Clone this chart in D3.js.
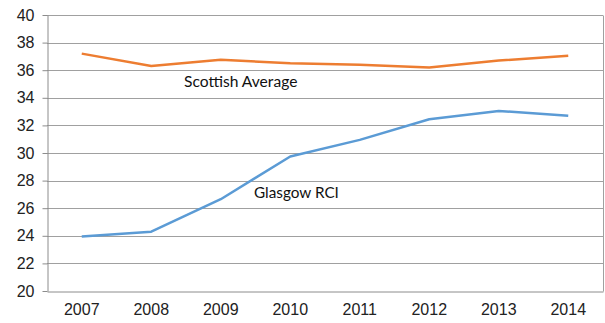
<!DOCTYPE html>
<html>
<head>
<meta charset="utf-8">
<script src="https://cdn.jsdelivr.net/npm/d3@7"></script>
<style>
  html, body { margin: 0; padding: 0; background: #fff; }
  svg { display: block; }
</style>
</head>
<body>
<svg id="chart" width="605" height="323"></svg>
<script>
// Years on the x axis
const years = ["2007", "2008", "2009", "2010", "2011", "2012", "2013", "2014"];
// Scottish average
const scottishAverage = [37.2, 36.3, 36.75, 36.5, 36.4, 36.2, 36.7, 37.05];
// Glasgow RCI
const glasgowRCI = [23.95, 24.3, 26.65, 29.75, 30.95, 32.45, 33.05, 32.7];
// Y axis ticks
const yTicks = [20, 22, 24, 26, 28, 30, 32, 34, 36, 38, 40];

const svg = d3.select("#chart");
const margin = { left: 47, right: 2, top: 15, bottom: 32 };
const W = 605, H = 323;

const x = d3.scaleBand().domain(years).range([margin.left, W - margin.right]);
const y = d3.scaleLinear().domain([20, 40]).range([H - margin.bottom, margin.top]);

// Horizontal gridlines
svg.append("g").selectAll("line").data(yTicks.slice(1)).join("line")
  .attr("x1", margin.left).attr("x2", W - margin.right)
  .attr("y1", d => Math.round(y(d)) + 0.5).attr("y2", d => Math.round(y(d)) + 0.5)
  .attr("stroke", "#a0a0a0").attr("stroke-width", 1);

// Right frame edge
svg.append("line")
  .attr("x1", W - margin.right + 0.5).attr("x2", W - margin.right + 0.5)
  .attr("y1", Math.round(y(40)) + 0.5).attr("y2", Math.round(y(20)) + 0.5)
  .attr("stroke", "#a0a0a0");

// Y axis
const yAxis = svg.append("g")
  .attr("transform", `translate(${margin.left + 0.5},0)`)
  .call(d3.axisLeft(y).tickValues(yTicks).tickSize(5).tickPadding(8).tickSizeOuter(0));
yAxis.select(".domain").attr("stroke", "#8c8c8c");
yAxis.selectAll(".tick line").attr("stroke", "#8c8c8c");
yAxis.selectAll("text").attr("font-family", "Liberation Sans, Arial, sans-serif")
  .attr("font-size", 16).attr("fill", "#222");

// X axis
const xAxis = svg.append("g")
  .attr("transform", `translate(0,${Math.round(y(20)) + 0.5})`)
  .call(d3.axisBottom(x).tickSize(0).tickPadding(12).tickSizeOuter(0));
xAxis.select(".domain").attr("stroke", "#8c8c8c");
xAxis.selectAll("text").attr("font-family", "Liberation Sans, Arial, sans-serif")
  .attr("font-size", 16).attr("fill", "#222");

const line = d3.line()
  .x((d, i) => x(years[i]) + x.bandwidth() / 2)
  .y(d => y(d));

svg.append("path").datum(scottishAverage)
  .attr("d", line).attr("fill", "none")
  .attr("stroke", "#ED7D31").attr("stroke-width", 2.5).attr("stroke-linejoin", "round");

svg.append("path").datum(glasgowRCI)
  .attr("d", line).attr("fill", "none")
  .attr("stroke", "#5B9BD5").attr("stroke-width", 2.5).attr("stroke-linejoin", "round");

// Series labels
svg.append("text").attr("x", 184).attr("y", 87)
  .attr("font-family", "Lato, Open Sans, sans-serif").attr("font-size", 15.6)
  .attr("fill", "#111").text("Scottish Average");
svg.append("text").attr("x", 254).attr("y", 198)
  .attr("font-family", "Lato, Open Sans, sans-serif").attr("font-size", 15.3)
  .attr("fill", "#111").text("Glasgow RCI");
</script>
</body>
</html>
